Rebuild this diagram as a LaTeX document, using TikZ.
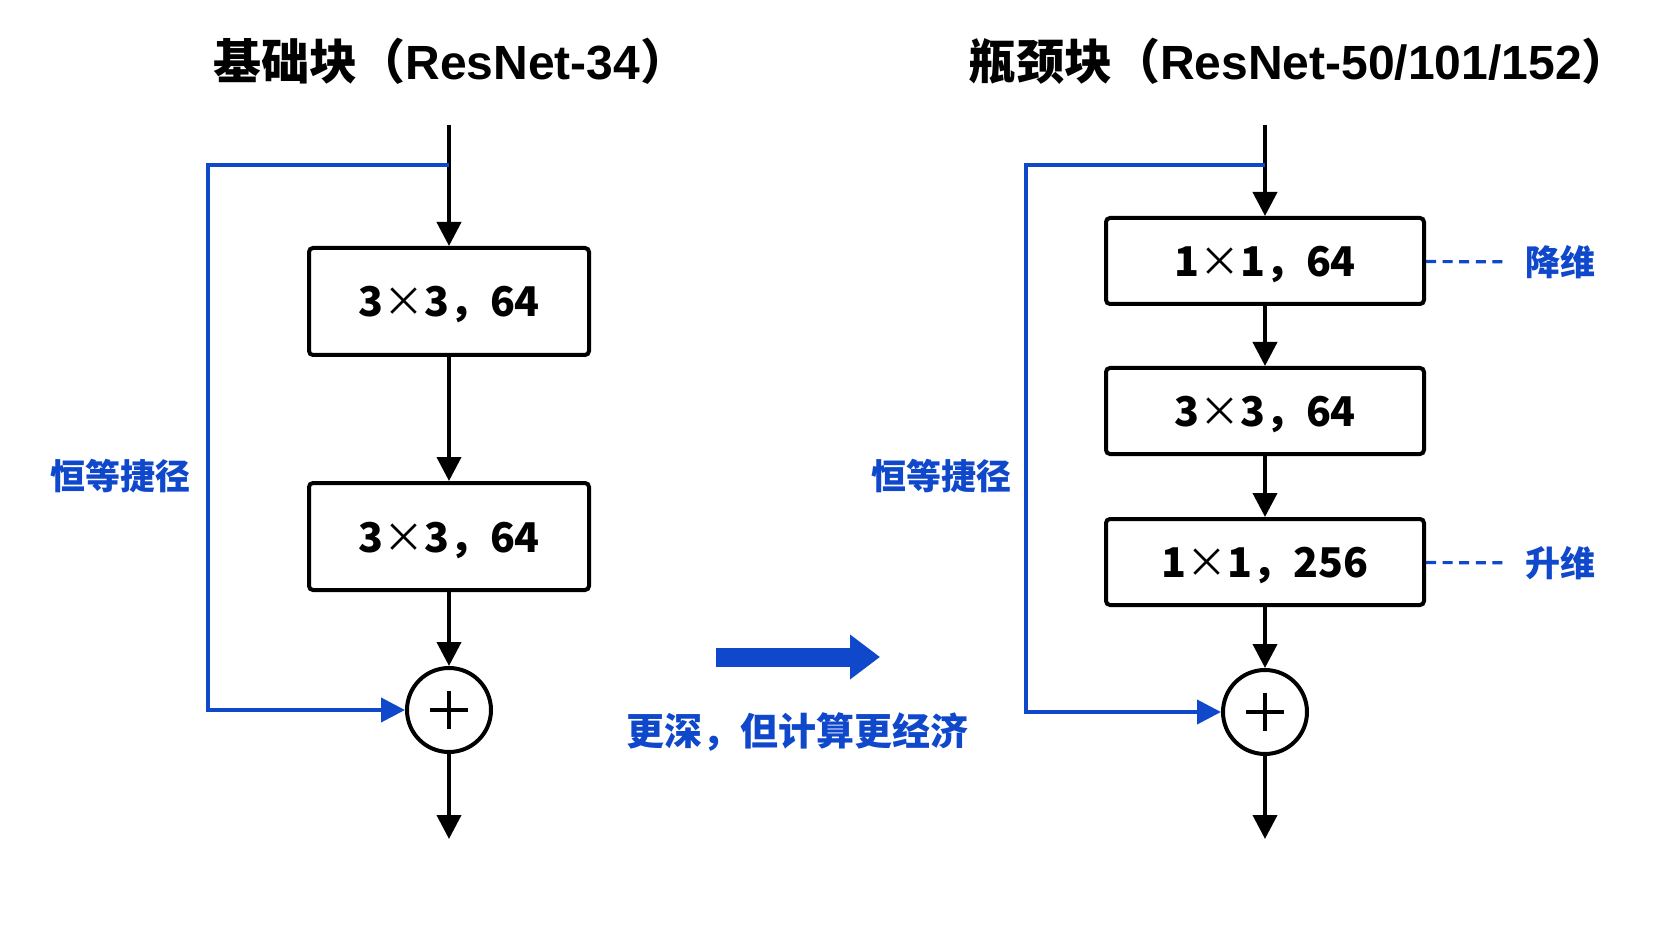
\documentclass[tikz,border=0pt]{standalone}
\usepackage{fontspec}
\setmainfont{Noto Sans CJK SC}
\newfontfamily\latinbold{Liberation Sans}[BoldFont={Liberation Sans Bold}]
\usetikzlibrary{arrows.meta,positioning}
\definecolor{skipblue}{RGB}{16,72,204}
\tikzset{
  layer/.style={draw,line width=2pt,rounded corners=2pt,inner sep=0pt,
    text height=15.5pt,text depth=0pt,
    minimum width=140pt,font=\fontsize{20.5}{25}\selectfont\bfseries},
  flow/.style={line width=2pt,-{Triangle[length=12pt,width=12pt]}},
  skip/.style={skipblue,line width=2pt,-{Triangle[length=12pt,width=12pt]}},
  note/.style={skipblue,line width=1.6pt,dash pattern=on 5pt off 3.3pt,shorten >=6pt},
  sum/.style={circle,draw,line width=2pt,minimum size=42pt,inner sep=0pt,
    path picture={
      \draw[line width=2.4pt] ([xshift=-9.5pt]path picture bounding box.center)
        -- ([xshift=9.5pt]path picture bounding box.center);
      \draw[line width=2.4pt] ([yshift=-9.5pt]path picture bounding box.center)
        -- ([yshift=9.5pt]path picture bounding box.center);}},
  title/.style={font=\fontsize{24}{28}\selectfont\bfseries},
  bluetext/.style={skipblue,font=\fontsize{17.5}{21}\selectfont\bfseries}
}
\newcommand\lat[1]{{\latinbold\bfseries #1}}
\newcommand\by{{\mdseries ×}}
\begin{document}
\begin{tikzpicture}[x=0.5pt,y=-0.5pt]
  \useasboundingbox[fill=white] (0,0) rectangle (1672,941);

  \node[title] (titleL) at (451,61) {基础块（\lat{ResNet-34}）};
  \node[title] (titleR) at (1299,61) {瓶颈块（\lat{ResNet-50/101/152}）};

  \coordinate (inL) at (449,125);
  \coordinate (forkL) at (449,165);
  \node[layer,minimum height=53.5pt] (convA) at (449,301.5) {3\by 3，64};
  \node[layer,minimum height=53.5pt] (convB) at (449,536.5) {3\by 3，64};
  \node[sum] (sumL) at (449,710) {};
  \coordinate (outL) at (449,839);
  \coordinate (cornL) at (208,165);

  \draw [flow] (inL) -- (convA);
  \draw [flow] (convA) -- (convB);
  \draw [flow] (convB) -- (sumL);
  \draw [flow] (sumL) -- (outL);
  \draw [skip] (forkL) -- (cornL) |- (sumL);
  \node[bluetext] (skipL) at (120,476) {恒等捷径};

  \coordinate (mA) at (716,657);
  \coordinate (mB) at (880,657);
  \draw [skipblue,line width=9.5pt,-{Triangle[length=15pt,width=21.5pt]}] (mA) -- (mB);
  \node[bluetext,font=\fontsize{19}{23}\selectfont\bfseries] (deeper) at (797,732) {更深，但计算更经济};

  \coordinate (inR) at (1265,125);
  \coordinate (forkR) at (1265,165);
  \node[layer,minimum width=159pt,minimum height=43pt] (reduce) at (1265,261) {1\by 1，64};
  \node[layer,minimum width=159pt,minimum height=43pt] (conv) at (1265,411) {3\by 3，64};
  \node[layer,minimum width=159pt,minimum height=43pt] (expand) at (1265,562) {1\by 1，256};
  \node[sum] (sumR) at (1265,712) {};
  \coordinate (outR) at (1265,839);
  \coordinate (cornR) at (1026,165);

  \draw [flow] (inR) -- (reduce);
  \draw [flow] (reduce) -- (conv);
  \draw [flow] (conv) -- (expand);
  \draw [flow] (expand) -- (sumR);
  \draw [flow] (sumR) -- (outR);
  \draw [skip] (forkR) -- (cornR) |- (sumR);
  \node[bluetext] (skipR) at (941,476) {恒等捷径};

  \node[bluetext,anchor=west] (down) at (1518,262) {降维};
  \node[bluetext,anchor=west] (up) at (1518,563) {升维};
  \draw [note] (reduce) -- (down);
  \draw [note] (expand) -- (up);
\end{tikzpicture}
\end{document}
